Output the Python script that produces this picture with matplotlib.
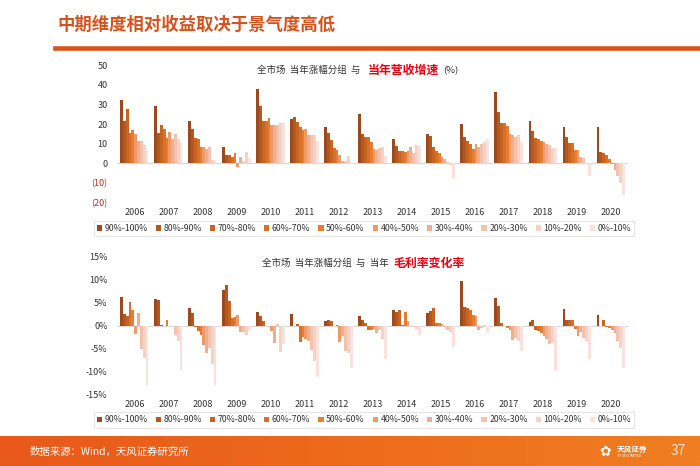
import numpy as np
import matplotlib
matplotlib.use("Agg")
import matplotlib.pyplot as plt
from matplotlib.colors import LinearSegmentedColormap
from matplotlib.lines import Line2D

plt.rcParams['font.family'] = ['Noto Sans CJK SC', 'DejaVu Sans']

# categories
years = ['2006', '2007', '2008', '2009', '2010', '2011', '2012', '2013',
         '2014', '2015', '2016', '2017', '2018', '2019', '2020']
groups = ['90%-100%', '80%-90%', '70%-80%', '60%-70%', '50%-60%',
          '40%-50%', '30%-40%', '20%-30%', '10%-20%', '0%-10%']
colors = ['#9a4a1c', '#b5581f', '#c86422', '#d87028', '#e57d32',
          '#ec9a68', '#f0ae8e', '#f3c2ae', '#f6d2c6', '#f9e2dc']

# revenue growth (%) per year, one value per return group
rev_2006 = [32.3, 21.6, 27.6, 15.3, 17.0, 15.0, 11.4, 11.6, 9.4, 6.8]
rev_2007 = [29.4, 15.6, 19.4, 17.3, 12.8, 16.0, 12.4, 15.0, 12.4, 10.5]
rev_2008 = [21.6, 17.3, 13.1, 12.6, 8.5, 8.5, 7.1, 8.2, 1.7, 1.7]
rev_2009 = [8.5, 4.3, 4.3, 3.4, 5.1, -2.0, 3.1, 0.5, 5.6, 2.6]
rev_2010 = [37.8, 29.3, 21.6, 21.8, 23.0, 19.6, 19.4, 19.6, 20.7, 20.7]
rev_2011 = [22.5, 23.7, 21.1, 18.5, 16.9, 17.6, 14.4, 14.4, 14.5, 11.2]
rev_2012 = [18.3, 15.4, 11.9, 7.6, 6.6, 4.3, 1.0, 1.0, 3.8, -0.3]
rev_2013 = [25.0, 14.8, 13.2, 13.2, 10.8, 7.5, 6.8, 7.7, 8.2, 3.6]
rev_2014 = [12.2, 8.7, 6.5, 6.5, 6.0, 6.5, 8.2, 5.4, 9.4, 9.0]
rev_2015 = [15.0, 14.0, 8.5, 6.3, 5.4, 3.4, 2.0, 0.8, -1.0, -8.2]
rev_2016 = [20.0, 13.6, 11.4, 9.7, 7.4, 9.8, 8.3, 10.0, 10.8, 12.2]
rev_2017 = [36.2, 26.2, 20.8, 20.6, 19.0, 14.9, 14.5, 13.3, 14.5, 11.0]
rev_2018 = [21.6, 16.5, 12.8, 12.4, 11.6, 11.0, 10.0, 9.4, 7.6, 7.6]
rev_2019 = [18.7, 13.6, 10.4, 10.6, 6.6, 6.6, 3.4, 2.9, 0.2, -6.4]
rev_2020 = [18.4, 6.0, 5.2, 4.4, 2.4, -0.5, -3.2, -6.3, -9.8, -16.2]

# gross margin change (%) per year, one value per return group
gm_2006 = [6.2, 2.5, 2.1, 5.1, 3.3, -1.8, 2.8, -5.2, -7.1, -13.0]
gm_2007 = [5.7, 5.6, 0.1, -0.1, 1.3, 0.0, -0.2, -2.0, -3.3, -9.6]
gm_2008 = [3.8, 2.8, -0.3, -1.2, -2.0, -4.3, -6.0, -5.0, -8.3, -13.0]
gm_2009 = [7.8, 8.8, 5.4, 1.6, 1.9, 2.2, -1.5, -1.5, -2.1, -1.3]
gm_2010 = [2.9, 2.0, 0.9, 0.0, -0.1, -1.2, -3.8, 0.4, -5.8, -4.0]
gm_2011 = [2.6, -0.2, 0.4, -3.6, -2.5, -2.9, -3.3, -5.3, -7.8, -11.2]
gm_2012 = [0.9, 1.3, 0.9, 0.0, 0.2, -3.6, -2.2, -5.6, -5.9, -9.2]
gm_2013 = [2.0, 1.2, 0.5, -0.9, -0.9, -0.8, -1.6, -1.0, -3.0, -7.4]
gm_2014 = [3.3, 2.9, 3.3, 0.2, 2.9, 0.9, -0.2, -0.3, -0.7, -2.0]
gm_2015 = [2.8, 3.1, 3.8, 0.6, 0.6, 0.4, -0.3, -0.9, -1.5, -4.6]
gm_2016 = [9.6, 4.1, 3.8, 3.3, 2.2, 2.0, -0.9, -0.5, 0.1, -1.5]
gm_2017 = [6.0, 4.2, 0.6, 0.0, -0.5, -0.9, -3.2, -2.7, -3.4, -5.6]
gm_2018 = [0.7, 1.1, -0.9, -1.2, -1.6, -2.3, -2.9, -4.1, -3.8, -9.9]
gm_2019 = [3.6, 1.3, 1.3, 1.3, -0.7, -2.2, -1.4, -2.7, -3.4, -7.4]
gm_2020 = [2.2, 0.0, 1.1, -0.3, -0.5, -0.9, -1.7, -3.4, -4.9, -9.2]

rev_rows = [rev_2006, rev_2007, rev_2008, rev_2009, rev_2010, rev_2011, rev_2012, rev_2013,
            rev_2014, rev_2015, rev_2016, rev_2017, rev_2018, rev_2019, rev_2020]
gm_rows = [gm_2006, gm_2007, gm_2008, gm_2009, gm_2010, gm_2011, gm_2012, gm_2013,
           gm_2014, gm_2015, gm_2016, gm_2017, gm_2018, gm_2019, gm_2020]

top_ticks = [-20, -10, 0, 10, 20, 30, 40, 50]
top_ticklabels = ['(20)', '(10)', '0', '10', '20', '30', '40', '50']
bot_ticks = [-15, -10, -5, 0, 5, 10, 15]
bot_ticklabels = ['-15%', '-10%', '-5%', '0%', '5%', '10%', '15%']

W, H = 700, 466
fig = plt.figure(figsize=(7, 4.66), dpi=100)
fig.patch.set_facecolor('white')


def px_axes(left, top, right, bottom):
    return fig.add_axes([left / W, 1 - bottom / H, (right - left) / W, (bottom - top) / H])


def draw_bars(ax, rows):
    vals = np.array(rows)
    x = np.arange(len(years))
    bw = 0.083
    bars = []
    for g in range(len(groups)):
        b = ax.bar(x + (g - 4.5) * bw, vals[:, g], width=bw, color=colors[g],
                   edgecolor='none', label=groups[g], zorder=2)
        bars.append(b)
    ax.axhline(0, color='#d9d9d9', lw=0.8, zorder=1)
    ax.set_xlim(-0.5, len(years) - 0.5)
    ax.set_xticks(x)
    ax.set_xticklabels(years, fontsize=6.5, color='#333333')
    ax.tick_params(axis='x', length=0, pad=4)
    ax.tick_params(axis='y', length=0, pad=7, labelsize=6.5, labelcolor='#333333')
    for s in ax.spines.values():
        s.set_visible(False)
    return bars


# top chart: revenue growth
ax1 = px_axes(117.3, 65.3, 627.7, 202.5)
bars = draw_bars(ax1, rev_rows)
ax1.set_ylim(-20, 50)
ax1.set_yticks(top_ticks)
ax1.set_yticklabels(top_ticklabels)
for lab, t in zip(ax1.get_yticklabels(), top_ticks):
    if t < 0:
        lab.set_color('#b03028')

# bottom chart: gross margin change
ax2 = px_axes(117.3, 256.7, 627.7, 394.3)
draw_bars(ax2, gm_rows)
ax2.set_ylim(-15, 15)
ax2.set_yticks(bot_ticks)
ax2.set_yticklabels(bot_ticklabels)

# legends
for yc in (228.5, 420.0):
    leg = fig.legend(handles=bars, labels=groups, loc='center', ncol=10,
                     bbox_to_anchor=(364 / W, 1 - yc / H), fontsize=6.3,
                     frameon=True, fancybox=False, edgecolor='#d9d9d9',
                     handlelength=0.6, handleheight=0.6, handletextpad=0.3,
                     columnspacing=0.9, borderpad=0.35, labelcolor='#333333')
    leg.get_frame().set_linewidth(0.6)

# chart titles
fig.text(257 / W, 1 - 70.5 / H, '全市场  当年涨幅分组  与  ', fontsize=6.8,
         color='#333333', va='center', ha='left')
fig.text(368 / W, 1 - 70.5 / H, '当年营收增速', fontsize=8.6, color='#e60012',
         weight='bold', va='center', ha='left')
fig.text(443 / W, 1 - 70.5 / H, '(%)', fontsize=6.8, color='#333333', va='center', ha='left')

fig.text(262 / W, 1 - 263 / H, '全市场  当年涨幅分组  与  当年', fontsize=6.8,
         color='#333333', va='center', ha='left')
fig.text(393 / W, 1 - 263 / H, '毛利率变化率', fontsize=8.6, color='#e60012',
         weight='bold', va='center', ha='left')

# page title and underline
fig.text(57 / W, 1 - 25 / H, '中期维度相对收益取决于景气度高低', fontsize=12.5,
         color='#d4531f', weight='bold', va='center', ha='left')
fig.add_artist(Line2D([55 / W, 1.0], [1 - 47.5 / H, 1 - 47.5 / H], lw=3.3, color='#d9531e'))

# footer band
axf = fig.add_axes([0, 0, 1, 30 / H])
cmap = LinearSegmentedColormap.from_list('band', ['#e8591a', '#ee6a1c', '#f07e22'])
axf.imshow(np.linspace(0, 1, 256).reshape(1, -1), aspect='auto', cmap=cmap,
           extent=[0, 1, 0, 1])
axf.set_axis_off()
fig.text(30 / W, 1 - 452 / H, '数据来源：Wind，天风证券研究所', fontsize=7.5,
         color='white', va='center', ha='left')
fig.text(678 / W, 1 - 451 / H, '37', fontsize=10, color='#fde3cf', va='center', ha='center')
fig.text(605 / W, 1 - 451 / H, '✿', fontsize=10, color='white', va='center',
         ha='center', family='DejaVu Sans')
fig.text(617 / W, 1 - 449 / H, '天风证券', fontsize=5.5, color='white', weight='bold',
         va='center', ha='left')
fig.text(617 / W, 1 - 456 / H, 'TF SECURITIES', fontsize=2.5, color='white',
         va='center', ha='left')

fig.savefig('out.png', dpi=100)
